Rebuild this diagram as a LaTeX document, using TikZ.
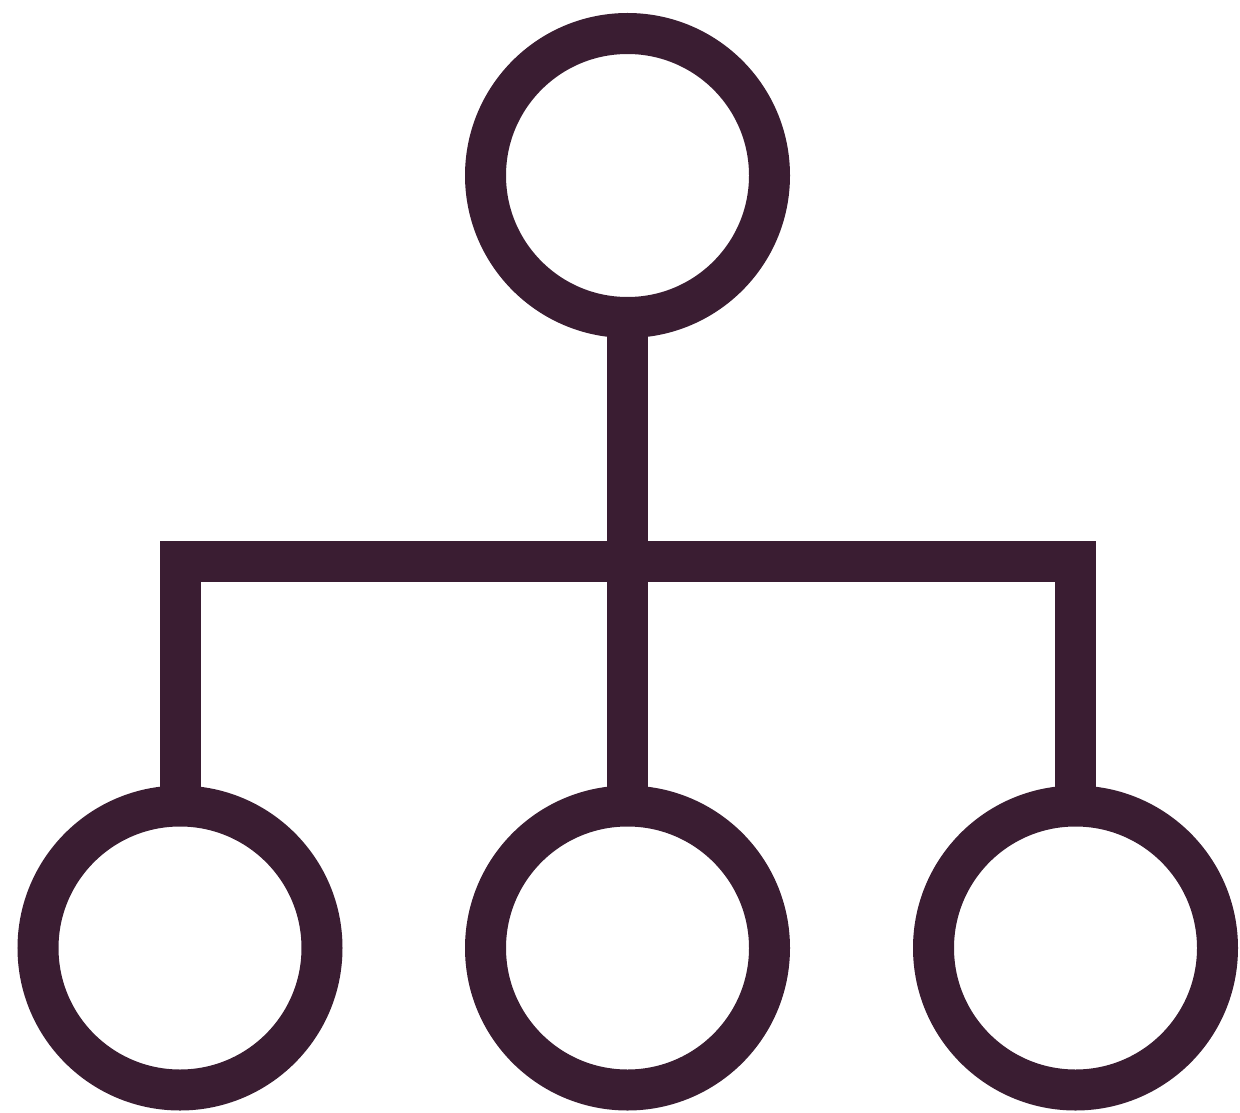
\documentclass[tikz,border=0pt]{standalone}
\usepackage{tikz}
\definecolor{ink}{RGB}{58,29,50}
\begin{document}
\begin{tikzpicture}[x=1pt,y=-1pt,
  ring/.style={circle,draw=ink,line width=41pt,minimum size=284pt,inner sep=0pt,outer sep=0pt},
  link/.style={draw=ink,line width=41pt,line join=miter,line cap=butt}]
\useasboundingbox (0,0) rectangle (1240,1113);
\node[ring] (top) at (627.5,175.5) {};
\node[ring] (bl) at (180,948) {};
\node[ring] (bm) at (627.5,948) {};
\node[ring] (br) at (1075.5,948) {};
\coordinate (bar) at (627.5,561.5);
\path[link] (top.south) -- (bm.north);
\path[link] (bl.north) -- (bl.north |- bar) -- (br.north |- bar) -- (br.north);
\end{tikzpicture}
\end{document}
